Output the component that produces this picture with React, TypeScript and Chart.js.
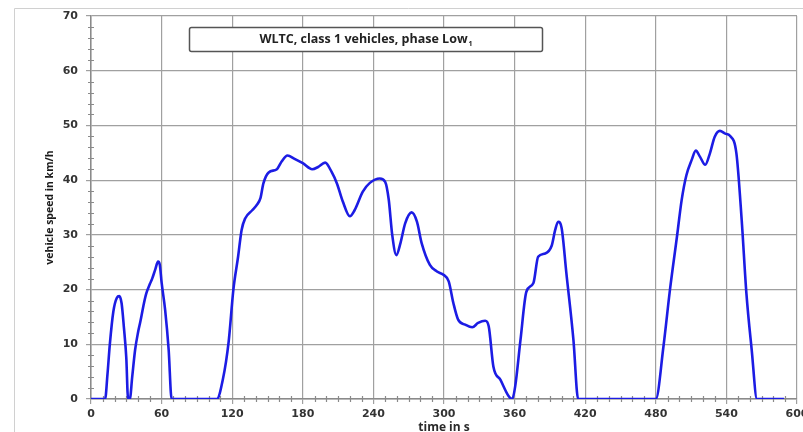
import React, { useEffect, useRef } from "react";
import { Chart, registerables } from "chart.js";

Chart.register(...registerables);

const times: number[] = [
  0, 12, 14, 16, 19, 22, 24, 26, 28, 30, 31.5, 33, 35, 37.5, 40, 42, 45, 47, 50, 52, 54.5, 57, 58.5, 60, 63, 66, 68.5,
  107, 112, 117, 121, 125, 128, 131, 137, 141, 144, 146.5, 151, 158, 162, 167, 173, 180, 188, 193, 199, 204.5, 209,
  214, 220, 224, 231, 237, 245.5, 250, 253, 256, 259.5, 263, 267, 272.5, 277, 281, 288, 294, 299.5, 304, 308, 312,
  318, 324, 329, 335, 338, 342, 348, 355, 358,
  360.5, 365, 370, 376, 380, 386, 391.5, 394.5, 397, 400, 404, 410, 414,
  480, 486.5, 492, 498, 502, 506, 510.5, 514, 517.5, 522, 526, 530, 534.5, 539, 543, 548.5, 553, 557, 561.5, 566, 589,
];

const speeds: number[] = [
  0, 0, 4.5, 10, 16, 18.5, 18.8, 17.5, 13, 7.5, 0, 0, 4, 9, 12.2, 14.2, 17.5, 19.3, 21, 22, 23.6, 25.1, 24.5, 21.3, 16.3, 9, 0,
  0, 3.5, 10.5, 20, 26, 30.9, 33, 34.5, 35.5, 36.7, 39.4, 41.4, 42, 43.4, 44.5, 43.9, 43.1, 42, 42.4, 43.2, 41.5, 39.4,
  36.1, 33.4, 34.5, 37.9, 39.5, 40.3, 39.7, 36.5, 30, 26.3, 28.5, 32.1, 34.1, 32.4, 28.5, 24.5, 23.3, 22.7, 21.5, 17.5, 14.5,
  13.6, 13.1, 13.9, 14.3, 13.3, 5.9, 3.5, 0.5, 0,
  2.3, 10.8, 19.6, 21.2, 26, 26.6, 28, 30.9, 32.4, 31.2, 23, 10.8, 0,
  0, 9.6, 19.9, 29.7, 36.4, 40.9, 43.7, 45.4, 44.3, 42.8, 44.9, 47.9, 49, 48.5, 48.1, 44.9, 32.7, 19.3, 9, 0, 0,
];

const xTicks: number[] = [0, 60, 120, 180, 240, 300, 360, 420, 480, 540, 600];
const yTicks: number[] = [0, 10, 20, 30, 40, 50, 60, 70];
const xMinorStep = 10;
const yMinorStep = 2;

const titleText = "WLTC, class 1 vehicles, phase Low";
const titleSub = "1";
const yTitle = "vehicle speed in km/h";
const xTitle = "time in s";

const decorPlugin = {
  id: "decor",
  beforeDraw(chart: any) {
    const ctx = chart.ctx;
    ctx.save();
    ctx.strokeStyle = "#d0d0d0";
    ctx.lineWidth = 1;
    ctx.beginPath();
    ctx.moveTo(14.5, chart.height);
    ctx.lineTo(14.5, 8.5);
    ctx.lineTo(chart.width, 8.5);
    ctx.stroke();
    ctx.restore();
  },
  beforeDatasetsDraw(chart: any) {
    const ctx = chart.ctx;
    const xs = chart.scales.x;
    const ys = chart.scales.y;
    const area = chart.chartArea;
    ctx.save();
    ctx.strokeStyle = "#8a8a8a";
    ctx.lineWidth = 1.2;
    ctx.beginPath();
    for (let v = 0; v <= 70; v += yMinorStep) {
      if (v % 10 === 0) continue;
      const py = Math.round(ys.getPixelForValue(v)) + 0.5;
      ctx.moveTo(area.left - 3, py);
      ctx.lineTo(area.left + 3, py);
    }
    for (let t = 0; t <= 600; t += xMinorStep) {
      if (t % 60 === 0) continue;
      const px = Math.round(xs.getPixelForValue(t)) + 0.5;
      ctx.moveTo(px, area.bottom - 3);
      ctx.lineTo(px, area.bottom + 3);
    }
    ctx.stroke();

    // title box
    const bx = 189.5, by = 27.5, bw = 353, bh = 24;
    ctx.fillStyle = "#ffffff";
    ctx.strokeStyle = "#555555";
    ctx.lineWidth = 1.5;
    ctx.beginPath();
    if (ctx.roundRect) ctx.roundRect(bx, by, bw, bh, 2);
    else ctx.rect(bx, by, bw, bh);
    ctx.fill();
    ctx.stroke();
    ctx.fillStyle = "#222222";
    const mainFont = "bold 12.5px 'Open Sans'";
    const subFont = "bold 7px 'Open Sans'";
    ctx.font = mainFont;
    ctx.textBaseline = "middle";
    const w1 = ctx.measureText(titleText).width;
    ctx.font = subFont;
    const w2 = ctx.measureText(titleSub).width;
    const cx = bx + bw / 2;
    const start = cx - (w1 + w2 + 1) / 2;
    ctx.font = mainFont;
    ctx.textAlign = "left";
    ctx.fillText(titleText, start, by + bh / 2);
    ctx.font = subFont;
    ctx.fillText(titleSub, start + w1 + 1, by + bh / 2 + 4);
    ctx.restore();
  },
};

export default function App() {
  const ref = useRef<HTMLCanvasElement | null>(null);
  useEffect(() => {
    if (!ref.current) return;
    const data = times.map((t, i) => ({ x: t, y: speeds[i] }));
    const chart = new Chart(ref.current, {
      type: "line",
      data: {
        datasets: [
          {
            data,
            borderColor: "#1c1ce4",
            borderWidth: 2.6,
            pointRadius: 0,
            fill: false,
            cubicInterpolationMode: "monotone",
          },
        ],
      },
      options: {
        responsive: false,
        animation: false,
        devicePixelRatio: 1,
        layout: { padding: { top: 16, right: 6, bottom: 0, left: 0 } },
        plugins: { legend: { display: false }, tooltip: { enabled: false } },
        scales: {
          x: {
            type: "linear",
            min: 0,
            max: 600,
            afterBuildTicks: (s: any) => {
              s.ticks = xTicks.map((v) => ({ value: v }));
            },
            afterFit: (s: any) => {
              s.height = 33;
              s.paddingRight = 0;
              s.paddingLeft = 0;
            },
            ticks: {
              color: "#333333",
              font: { family: "DejaVu Sans", weight: "bold", size: 11 },
              padding: 4,
              maxRotation: 0,
              autoSkip: false,
            },
            grid: { color: "#a0a0a0", lineWidth: 1.2, tickLength: 5 },
            border: { color: "#8a8a8a", width: 1.5 },
            title: {
              display: true,
              text: xTitle,
              color: "#2a2a2a",
              font: { family: "Open Sans", weight: "bold", size: 12, lineHeight: 1.2 },
              padding: { top: 0, bottom: -2.5 },
            },
          },
          y: {
            type: "linear",
            min: 0,
            max: 70,
            afterBuildTicks: (s: any) => {
              s.ticks = yTicks.map((v) => ({ value: v }));
            },
            afterFit: (s: any) => {
              s.width = 91;
              s.paddingTop = 0;
              s.paddingBottom = 0;
            },
            ticks: {
              color: "#333333",
              font: { family: "DejaVu Sans", weight: "bold", size: 11 },
              padding: 8,
            },
            grid: { color: "#a0a0a0", lineWidth: 1.2, tickLength: 5 },
            border: { color: "#8a8a8a", width: 1.5 },
            title: {
              display: true,
              text: yTitle,
              color: "#1a1a1a",
              font: { family: "Open Sans", weight: "bold", size: 10.5, lineHeight: 1.2 },
              padding: { top: 43.5, bottom: 0 },
            },
          },
        },
      },
      plugins: [decorPlugin],
    } as any);
    return () => chart.destroy();
  }, []);
  return (
    <div style={{ position: "absolute", left: 0, top: 0, width: 803, height: 432, background: "#ffffff" }}>
      <canvas ref={ref} width={803} height={432} style={{ display: "block" }} />
    </div>
  );
}
